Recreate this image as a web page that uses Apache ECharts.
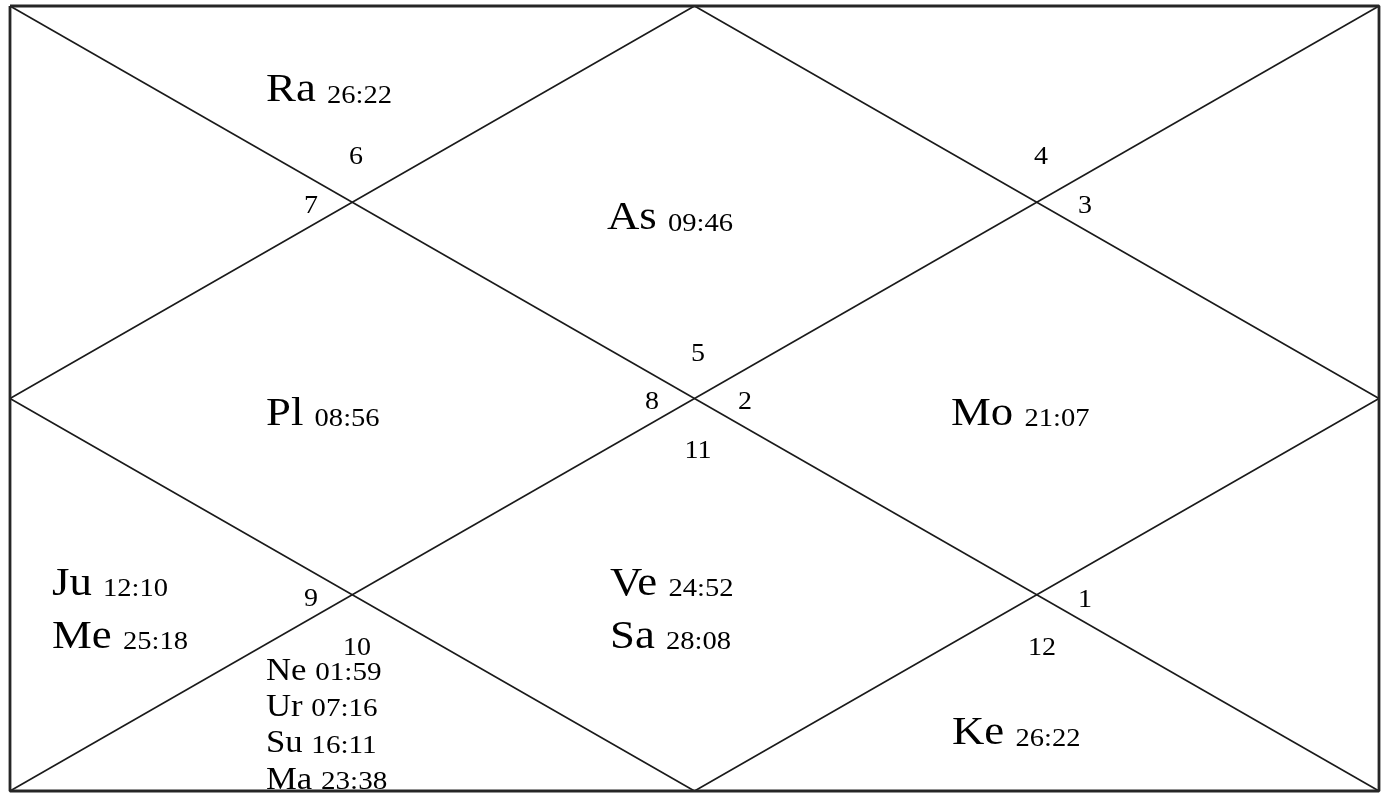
<!DOCTYPE html>
<html>
<head>
<meta charset="utf-8">
<script src="https://cdn.jsdelivr.net/npm/echarts@6/dist/echarts.min.js"></script>
<style>
  html, body { margin: 0; padding: 0; background: #fff; }
  #chart { width: 1384px; height: 794px; }
</style>
</head>
<body>
<div id="chart"></div>
<script>
// ---- Chart data (North Indian style birth chart) ----
const planetNames   = ['As', 'Ra', 'Pl', 'Ju', 'Me', 'Ne', 'Ur', 'Su', 'Ma', 'Ve', 'Sa', 'Ke', 'Mo'];
const planetDegrees = ['09:46', '26:22', '08:56', '12:10', '25:18', '01:59', '07:16', '16:11', '23:38', '24:52', '28:08', '26:22', '21:07'];
const planetHouses  = [1, 2, 4, 5, 5, 6, 6, 6, 6, 7, 7, 8, 10];
// sign number shown in each house (house 1 .. house 12)
const houseSigns    = [5, 6, 7, 8, 9, 10, 11, 12, 1, 2, 3, 4];

// ---- Layout (chart units: x 0..2 left->right, y 0..2 top->bottom) ----
const signLabelPos = [
  [1.0051, 0.8866], [0.5055, 0.3847], [0.4397, 0.5096], [0.9379, 1.0089],
  [0.4397, 1.5108], [0.5069, 1.6357], [1.0051, 1.1338], [1.5077, 1.6357],
  [1.5705, 1.5134], [1.0738, 1.0089], [1.5705, 0.5096], [1.5062, 0.3847]
];
const houseTextPos = [
  [0.8722, 0.5936], [0.3740, 0.2675], [0.0614, 0.5936], [0.3740, 1.0905],
  [0.0614, 1.5236], [0.3740, 1.7350], [0.8765, 1.5236], [1.3762, 1.9057],
  [1.7200, 1.5236], [1.3747, 1.0905], [1.7200, 0.5936], [1.3747, 0.2675]
];
const FONT = '"Liberation Serif", "Times New Roman", Times, serif';
const SX = 1.12;

// frame geometry in chart units
const border  = [[0, 0], [2, 0], [2, 2], [0, 2], [0, 0]];
const diagA   = [[0, 0], [2, 2]];
const diagB   = [[0, 2], [2, 0]];
const diamond = [[1, 0], [2, 1], [1, 2], [0, 1], [1, 0]];

// build text items
const signData = houseSigns.map((s, i) => [signLabelPos[i][0], signLabelPos[i][1], s]);
const textData = [];
const textInfo = [];
const counts = {};
planetNames.forEach((p, i) => {
  const h = planetHouses[i];
  counts[h] = (counts[h] || 0);
  const slot = counts[h]++;
  textInfo.push({ h, slot, name: p, deg: planetDegrees[i] });
});
textInfo.forEach(t => {
  const total = counts[t.h];
  const compact = total >= 3;
  const step = compact ? 0.0925 : 0.135;
  const pos = houseTextPos[t.h - 1];
  t.compact = compact;
  textData.push([pos[0], pos[1] + t.slot * step]);
});

function lineSeries(pts, w, color) {
  return {
    type: 'line', data: pts, symbol: 'none', clip: false, silent: true,
    animation: false,
    lineStyle: { width: w, color: color }
  };
}

const chart = echarts.init(document.getElementById('chart'), null, { renderer: 'canvas' });
chart.setOption({
  animation: false,
  backgroundColor: '#ffffff',
  grid: { left: 10, right: 5, top: 6, bottom: 3 },
  xAxis: { type: 'value', min: 0, max: 2, show: false },
  yAxis: { type: 'value', min: 0, max: 2, inverse: true, show: false },
  series: [
    lineSeries(diagA, 1.6, '#1a1a1a'),
    lineSeries(diagB, 1.6, '#1a1a1a'),
    lineSeries(diamond, 1.6, '#1a1a1a'),
    lineSeries(border, 2.8, '#262626'),
    {
      type: 'custom', silent: true, animation: false,
      data: signData,
      renderItem: function (params, api) {
        const pt = api.coord([api.value(0), api.value(1)]);
        return {
          type: 'text', x: pt[0], y: pt[1], scaleX: SX,
          style: {
            text: String(signData[params.dataIndex][2]),
            fontFamily: FONT, fontSize: 25, fill: '#000',
            align: 'center', verticalAlign: 'middle'
          }
        };
      }
    },
    {
      type: 'custom', silent: true, animation: false,
      data: textData,
      renderItem: function (params, api) {
        const t = textInfo[params.dataIndex];
        const pt = api.coord([api.value(0), api.value(1)]);
        const nf = t.compact ? 31 : 40;
        const df = t.compact ? 26 : 25.5;
        const dh = t.compact ? 27.6 : 30;
        return {
          type: 'text', x: pt[0], y: pt[1], scaleX: SX,
          style: {
            text: '{n|' + t.name + ' }{d|' + t.deg + '}',
            align: 'left', verticalAlign: 'bottom',
            rich: {
              n: { fontFamily: FONT, fontSize: nf, lineHeight: nf, height: nf, fill: '#000', verticalAlign: 'bottom' },
              d: { fontFamily: FONT, fontSize: df, height: dh, fill: '#000', verticalAlign: 'bottom' }
            }
          }
        };
      }
    }
  ]
});
</script>
</body>
</html>
